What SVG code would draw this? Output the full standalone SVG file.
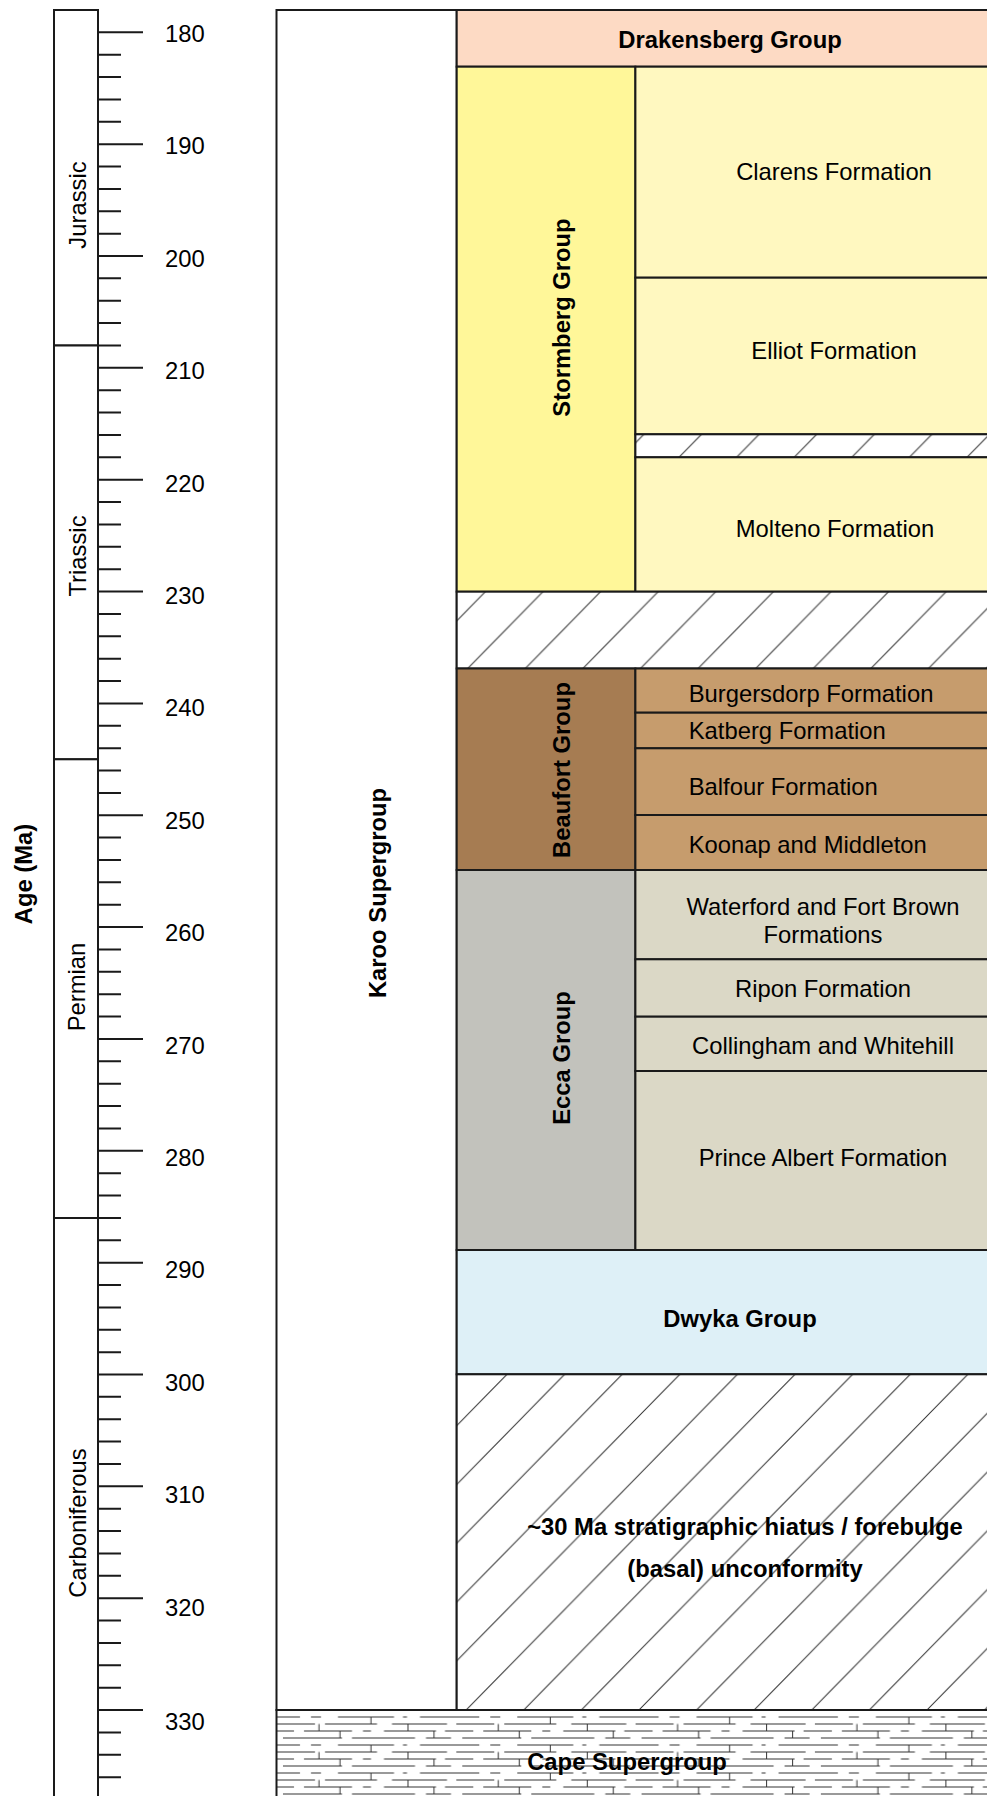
<svg xmlns="http://www.w3.org/2000/svg" width="987" height="1796" viewBox="0 0 987 1796">
<style>
text{font-family:"Liberation Sans",Arial,sans-serif;font-size:23.8px;fill:#000}
.b{font-weight:bold}
.m{text-anchor:middle}
.box{stroke:#1a1a1a;stroke-width:2}
.hl{stroke:#333;stroke-width:1;fill:none}
.tick{stroke:#1a1a1a;stroke-width:2;fill:none}
</style>
<defs>
<pattern id="hatchThin" patternUnits="userSpaceOnUse" x="679" y="398.5" width="57.6" height="58.8"><rect width="57.6" height="58.8" fill="#fff"/><path class="hl" d="M0 58.8L57.6 0M-5 5.1L5 -5.1M52.6 63.9L62.6 53.7"/></pattern>
<pattern id="hatchBand" patternUnits="userSpaceOnUse" x="467.9" y="609.5" width="57.6" height="58.8"><rect width="57.6" height="58.8" fill="#fff"/><path class="hl" d="M0 58.8L57.6 0M-5 5.1L5 -5.1M52.6 63.9L62.6 53.7"/></pattern>
<pattern id="hatchHiatus" patternUnits="userSpaceOnUse" x="466.2" y="1651.2" width="57.6" height="58.8"><rect width="57.6" height="58.8" fill="#fff"/><path class="hl" d="M0 58.8L57.6 0M-5 5.1L5 -5.1M52.6 63.9L62.6 53.7"/></pattern>
<pattern id="shale" patternUnits="userSpaceOnUse" x="277" y="1713.5" width="179.3" height="28"><rect width="179.3" height="28" fill="#fff"/><path stroke="#333" stroke-width="1" fill="none" d="M0 3.5H23M34 3.5H44M61 3.5H117M126 3.5H130M143 3.5H179.3M0 10.5H38M48 10.5H100M115 10.5H170M0 17.5H17M27 17.5H75M86 17.5H94M107 17.5H159M168 17.5H179.3M6 24.5H65M75 24.5H138M149 24.5H174M94 3.5V10.5M42 10.5V17.5M131 10.5V17.5M63 17.5V24.5M157 17.5V24.5"/></pattern>
</defs>

<g id="age-axis-title"><text class="b m" transform="translate(32,874) rotate(-90)">Age (Ma)</text></g>

<g id="periods">
<rect class="box" x="54" y="10" width="44" height="335.5" fill="#fff"/>
<rect class="box" x="54" y="345.5" width="44" height="413.8" fill="#fff"/>
<rect class="box" x="54" y="759.3" width="44" height="458.7" fill="#fff"/>
<rect class="box" x="54" y="1218" width="44" height="600" fill="#fff"/>
<text class="m" transform="translate(86,205) rotate(-90)">Jurassic</text>
<text class="m" transform="translate(86,556) rotate(-90)">Triassic</text>
<text class="m" transform="translate(85,987) rotate(-90)">Permian</text>
<text class="m" transform="translate(86,1523) rotate(-90)">Carboniferous</text>
</g>

<g id="age-ticks">
<path class="tick" d="M98 32.3H143M98 54.67H121M98 77.04H121M98 99.41H121M98 121.78H121M98 144.15H143M98 166.52H121M98 188.89H121M98 211.26H121M98 233.63H121M98 256H143M98 278.37H121M98 300.74H121M98 323.11H121M98 345.48H121M98 367.85H143M98 390.22H121M98 412.59H121M98 434.96H121M98 457.33H121M98 479.7H143M98 502.07H121M98 524.44H121M98 546.81H121M98 569.18H121M98 591.55H143M98 613.92H121M98 636.29H121M98 658.66H121M98 681.03H121M98 703.4H143M98 725.77H121M98 748.14H121M98 770.51H121M98 792.88H121M98 815.25H143M98 837.62H121M98 859.99H121M98 882.36H121M98 904.73H121M98 927.1H143M98 949.47H121M98 971.84H121M98 994.21H121M98 1016.58H121M98 1038.95H143M98 1061.32H121M98 1083.69H121M98 1106.06H121M98 1128.43H121M98 1150.8H143M98 1173.17H121M98 1195.54H121M98 1217.91H121M98 1240.28H121M98 1262.65H143M98 1285.02H121M98 1307.39H121M98 1329.76H121M98 1352.13H121M98 1374.5H143M98 1396.87H121M98 1419.24H121M98 1441.61H121M98 1463.98H121M98 1486.35H143M98 1508.72H121M98 1531.09H121M98 1553.46H121M98 1575.83H121M98 1598.2H143M98 1620.57H121M98 1642.94H121M98 1665.31H121M98 1687.68H121M98 1710.05H143M98 1732.42H121M98 1754.79H121M98 1777.16H121"/>
</g>

<g id="age-labels">
<text x="165" y="41.7">180</text>
<text x="165" y="154">190</text>
<text x="165" y="266.5">200</text>
<text x="165" y="379">210</text>
<text x="165" y="491.5">220</text>
<text x="165" y="604">230</text>
<text x="165" y="716.3">240</text>
<text x="165" y="828.7">250</text>
<text x="165" y="941.1">260</text>
<text x="165" y="1053.5">270</text>
<text x="165" y="1166">280</text>
<text x="165" y="1278.4">290</text>
<text x="165" y="1390.8">300</text>
<text x="165" y="1503.3">310</text>
<text x="165" y="1615.7">320</text>
<text x="165" y="1729.5">330</text>
</g>

<g id="karoo-supergroup">
<rect class="box" x="276.5" y="10" width="180.2" height="1700" fill="#fff"/>
<text class="b m" transform="translate(386,893) rotate(-90)">Karoo Supergroup</text>
</g>

<g id="drakensberg-group">
<rect class="box" x="456.7" y="10" width="580" height="56.7" fill="#FDDAC4"/>
<text class="b m" x="730" y="48.3">Drakensberg Group</text>
</g>

<g id="stormberg-group">
<rect class="box" x="456.7" y="66.7" width="178.7" height="525" fill="#FFF799"/>
<text class="b m" transform="translate(570,317.5) rotate(-90)">Stormberg Group</text>
</g>
<g id="clarens-formation">
<rect class="box" x="635.4" y="66.7" width="400" height="211" fill="#FFF8C0"/>
<text class="m" x="834" y="180">Clarens Formation</text>
</g>
<g id="elliot-formation">
<rect class="box" x="635.4" y="277.7" width="400" height="156.6" fill="#FFF8C0"/>
<text class="m" x="834" y="358.6">Elliot Formation</text>
</g>
<g id="hiatus-elliot-molteno">
<rect class="box" x="635.4" y="434.3" width="400" height="23" fill="url(#hatchThin)"/>
</g>
<g id="molteno-formation">
<rect class="box" x="635.4" y="457.3" width="400" height="134.4" fill="#FFF8C0"/>
<text class="m" x="835" y="536.7">Molteno Formation</text>
</g>

<g id="hiatus-triassic">
<rect class="box" x="456.7" y="591.7" width="580" height="76.8" fill="url(#hatchBand)"/>
</g>

<g id="beaufort-group">
<rect class="box" x="456.7" y="668.5" width="178.7" height="201.5" fill="#A67C52"/>
<text class="b m" transform="translate(570,770) rotate(-90)">Beaufort Group</text>
</g>
<g id="burgersdorp-formation">
<rect class="box" x="635.4" y="668.5" width="400" height="44.2" fill="#C69C6D"/>
<text x="688.7" y="701.7">Burgersdorp Formation</text>
</g>
<g id="katberg-formation">
<rect class="box" x="635.4" y="712.7" width="400" height="35.6" fill="#C69C6D"/>
<text x="688.7" y="739.3">Katberg Formation</text>
</g>
<g id="balfour-formation">
<rect class="box" x="635.4" y="748.3" width="400" height="66.7" fill="#C69C6D"/>
<text x="688.7" y="795">Balfour Formation</text>
</g>
<g id="koonap-middleton">
<rect class="box" x="635.4" y="815" width="400" height="55" fill="#C69C6D"/>
<text x="688.7" y="852.7">Koonap and Middleton</text>
</g>

<g id="ecca-group">
<rect class="box" x="456.7" y="870" width="178.7" height="380" fill="#C2C2BC"/>
<text class="b m" transform="translate(570,1058) rotate(-90)">Ecca Group</text>
</g>
<g id="waterford-fort-brown">
<rect class="box" x="635.4" y="870" width="400" height="89.3" fill="#DBD8C6"/>
<text class="m" x="823" y="915">Waterford and Fort Brown</text>
<text class="m" x="823" y="942.7">Formations</text>
</g>
<g id="ripon-formation">
<rect class="box" x="635.4" y="959.3" width="400" height="57.4" fill="#DBD8C6"/>
<text class="m" x="823" y="996.7">Ripon Formation</text>
</g>
<g id="collingham-whitehill">
<rect class="box" x="635.4" y="1016.7" width="400" height="54.3" fill="#DBD8C6"/>
<text class="m" x="823" y="1054">Collingham and Whitehill</text>
</g>
<g id="prince-albert-formation">
<rect class="box" x="635.4" y="1071" width="400" height="179" fill="#DBD8C6"/>
<text class="m" x="823" y="1165.7">Prince Albert Formation</text>
</g>

<g id="dwyka-group">
<rect class="box" x="456.7" y="1250" width="580" height="124.3" fill="#DEF0F7"/>
<text class="b m" x="740" y="1326.7">Dwyka Group</text>
</g>

<g id="basal-unconformity">
<rect class="box" x="456.7" y="1374.3" width="580" height="335.7" fill="url(#hatchHiatus)"/>
<text class="b m" x="745" y="1535">~30 Ma stratigraphic hiatus / forebulge</text>
<text class="b m" x="745" y="1576.7">(basal) unconformity</text>
</g>

<g id="cape-supergroup">
<rect class="box" x="276.5" y="1710" width="760" height="100" fill="url(#shale)"/>
<text class="b" x="527.2" y="1770">Cape Supergroup</text>
</g>
</svg>
